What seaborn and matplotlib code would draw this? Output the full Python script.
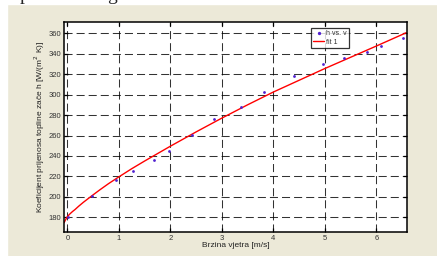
import numpy as np
import pandas as pd
import matplotlib
matplotlib.use('Agg')
import matplotlib.pyplot as plt
import seaborn as sns
from matplotlib.patches import Rectangle

# --- Data ---
v = [0.01, 0.47, 0.95, 1.27, 1.69, 1.97, 2.43, 2.85, 3.38, 3.82, 4.40, 4.97, 5.37, 5.82, 6.09, 6.52]
h = [180.6, 201.0, 216.0, 225.5, 235.7, 244.7, 260.8, 275.9, 288.2, 302.3, 318.0, 329.5, 335.5, 341.4, 347.9, 355.0]

fit_v = [-0.06, -0.03, 0.0, 0.05, 0.1, 0.15, 0.22, 0.31, 0.47, 0.63, 0.8, 1.0, 1.25, 1.5, 2.0, 2.5, 3.0, 3.5, 4.0, 4.5, 5.0, 5.5, 6.0, 6.58]
fit_h = [175.0, 178.0, 180.6, 183.3, 185.6, 187.6, 190.8, 194.6, 200.8, 206.8, 212.9, 219.5, 227.5, 235.0, 249.5, 263.5, 277.0, 290.0, 302.5, 314.0, 325.5, 336.5, 347.5, 360.5]

x_ticks = [0, 1, 2, 3, 4, 5, 6]
y_ticks = [180, 200, 220, 240, 260, 280, 300, 320, 340, 360]

pts = pd.DataFrame({'v': v, 'h': h})
fit = pd.DataFrame({'v': fit_v, 'h': fit_h})

# --- Style ---
sns.set_style('ticks')
plt.rcParams['font.family'] = ['Liberation Sans', 'DejaVu Sans']
plt.rcParams['lines.scale_dashes'] = False

fig = plt.figure(figsize=(4.37, 2.56), dpi=100, facecolor='#ece9d8')
ax = fig.add_axes([0.1465, 0.0937, 0.7842, 0.8203])
ax.set_facecolor('white')

# white strips of the page around the screenshot
fig.patches.append(Rectangle((0, 0.984), 1, 0.02, transform=fig.transFigure, color='white', zorder=0))
fig.patches.append(Rectangle((0, 0), 0.016, 1, transform=fig.transFigure, color='white', zorder=0))
fig.text(0.046, 1.0, 'p', fontsize=14, family='Liberation Serif', va='baseline', ha='left')
fig.text(0.245, 1.0, 'g', fontsize=14, family='Liberation Serif', va='baseline', ha='left')

# --- Plot ---
sns.scatterplot(data=pts, x='v', y='h', ax=ax, color='#5020d0', s=4, linewidth=0,
                marker='o', label='h vs. v', zorder=3)
sns.lineplot(data=fit, x='v', y='h', ax=ax, color='red', linewidth=1.0, label='fit 1',
             sort=True, zorder=2)

ax.set_xlim(-0.064, 6.59)
ax.set_ylim(165.6, 371)
ax.set_xticks(x_ticks)
ax.set_yticks(y_ticks)
ax.grid(True, color='black', linestyle=(0, (5.8, 2.9)), linewidth=0.75, alpha=0.8)
ax.set_axisbelow(True)

for s in ax.spines.values():
    s.set_visible(True)
    s.set_color('black')
    s.set_linewidth(1.1)
ax.tick_params(direction='in', length=3, width=0.9, top=True, right=True,
               labelsize=5.5, pad=2, colors='black', labelcolor='#333333')

ax.set_xlabel('Brzina vjetra [m/s]', fontsize=6, labelpad=0.5, color='#222222')
ax.set_ylabel('Koeficijent prijenosa topline zače h [W/(m$^2$ K)]', fontsize=6,
              labelpad=1, color='#222222')

leg = ax.legend(loc='upper left', bbox_to_anchor=(0.721, 0.973), borderaxespad=0,
                fontsize=5, frameon=True, fancybox=False, handlelength=1.6,
                handletextpad=0.3, borderpad=0.3, labelspacing=0.25, markerscale=1.2)
leg.get_frame().set_edgecolor('black')
leg.get_frame().set_linewidth(0.9)
for t in leg.get_texts():
    t.set_color('#333333')

fig.savefig('out.png', dpi=100, facecolor=fig.get_facecolor())
